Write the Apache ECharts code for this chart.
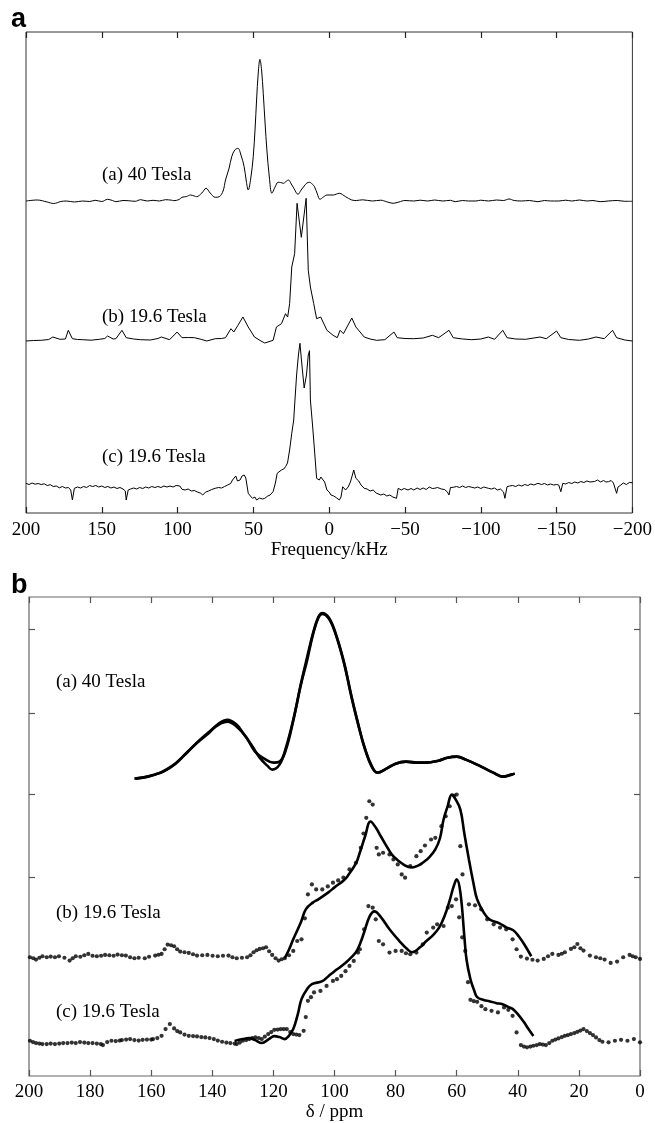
<!DOCTYPE html>
<html>
<head>
<meta charset="utf-8">
<script src="https://cdn.jsdelivr.net/npm/echarts/dist/echarts.min.js"></script>
<style>
  html, body { margin: 0; padding: 0; background: #fff; }
  #chart { width: 655px; height: 1123px; }
</style>
</head>
<body>
<div id="chart"></div>
<script>
// panel a: spectra vs frequency (kHz), height above own baseline
var A_40T = [[200,0],[192.6,1],[186,-1],[181.7,-2.5],[177,-0.5],[173.5,0],[168,-1],[162.6,0],[158,-0.5],[154.4,0.7],[150,-0.5],[146.2,1.7],[143,0.5],[140.7,-0.7],[136,0.5],[132.6,0.3],[128,-0.3],[124.4,1.3],[120,0],[116.2,0.7],[112,0],[108,1.3],[104,0.8],[102.5,0.3],[99,1.5],[97.1,3.7],[94,4.5],[91.6,6],[89,5],[87.5,4.3],[84,8],[81.2,12.7],[78.5,8],[75.2,3.7],[72.5,4.3],[70,10],[68.4,21],[66,33],[64.3,44.3],[62.3,51],[60.2,52.7],[58.2,46],[56.1,34.3],[54.7,20],[53.4,11],[51.8,22],[50.1,44.3],[48.9,72],[47.9,101],[46.8,128],[45.7,141.7],[44.6,131],[43.5,107.7],[42.3,78],[41.1,51],[39.5,24],[37.8,7.7],[35.7,14],[33.7,18.7],[32,18.5],[30.2,17.7],[28.5,19.5],[26.9,21],[25,17],[23.3,12.7],[20.6,6.7],[18.5,11],[16.5,15],[14.7,18],[13,18.7],[11.2,17],[9.7,14.3],[7.8,7],[6.1,1.7],[3.8,4],[1.5,6],[-2.6,6],[-6.7,7.7],[-10.8,4.3],[-14.9,1],[-18,0.5],[-22,1.2],[-28.5,0],[-34,0.8],[-38,-0.8],[-42.2,-2.3],[-46,-1],[-50,0.5],[-55.8,0],[-60,0.8],[-65,0],[-69.5,1],[-75,0],[-80,0.7],[-83.1,-0.7],[-88,0.5],[-92,0],[-96.8,0],[-100,0.8],[-105,0],[-110.4,1],[-115,0.5],[-118.6,2],[-122,0.5],[-126.8,0],[-132,0.5],[-137.7,-0.7],[-142,0.5],[-146,0],[-151.4,0],[-156,0.8],[-160,0],[-165.1,1],[-170,0],[-174,0.5],[-178.7,-0.7],[-184,0],[-190,0.5],[-195,-0.3],[-200,-0.3]];

var A_196T_B = [[200,0],[195,0.5],[189.9,0.7],[185,1.5],[182.3,4],[177.6,1.7],[174,2],[172.1,10.7],[169.4,2.3],[166,1.5],[162.6,1.3],[157,0.8],[151.7,1.7],[148,2.5],[146.2,5],[142.5,2],[140.7,2.3],[136.7,10.7],[133.9,3.3],[129,2],[124.4,1.3],[118,1],[113,2.5],[110.7,4],[105.3,1.3],[100.3,9],[97.1,3.3],[93,3.5],[88.9,3.3],[84,1.5],[80.7,0],[75.2,2.3],[71,2.5],[68.4,3.3],[64.8,12.3],[62.9,9],[60.2,15.7],[56.9,24],[53.4,14],[49.3,4],[45,0],[42.5,-2],[37,0.7],[34.8,14],[31.5,17.3],[28.8,27.3],[27.4,24],[26.1,37.3],[24.7,74],[22.8,87.3],[21.2,137.7],[18.4,103.7],[15.2,142.7],[13.8,70.7],[12.4,54],[10.2,37.3],[8.3,22.3],[5.6,24],[1.5,10.7],[-2.6,5.7],[-5.3,3.3],[-7.2,10.7],[-9.4,7.3],[-14.9,23],[-17.6,14],[-23.1,4],[-27,2],[-31.3,0.7],[-36.7,1.3],[-42.7,9],[-44.9,3.3],[-50,2.5],[-55.8,2.3],[-62,3],[-68.1,5.7],[-72.2,3.3],[-79,10.7],[-81.8,3.3],[-88,2],[-94.1,1.3],[-100,2],[-105,4],[-109.1,1.7],[-114.5,10.7],[-117.3,3.3],[-123,2],[-129.6,1.7],[-139.1,4],[-143.2,2.3],[-150,10],[-152.8,3.3],[-158,1.5],[-165.1,0.7],[-171,2],[-176,4],[-181.4,2.3],[-186.9,10.7],[-189.6,3.3],[-195,1],[-200,0]];

var A_196T_C = [[200,1.7],[198,0.5],[196,2],[194,0.8],[192,1.5],[190,0.5],[188,1.2],[186,-0.5],[184,0.3],[182,-1.5],[180,-1],[178,-2.8],[176,-1.5],[174,-3],[172,-2.5],[170.5,-5],[169.4,-15],[168.1,-3.3],[166,-2],[164,-3],[162,-1.5],[160,-2.5],[158,-0.5],[156,-1.5],[154,-0.5],[152,-2],[150,-1],[148,-2.5],[146,-1.5],[144,-3],[142,-2],[140,-3.5],[138,-2.5],[136,-4],[134.5,-6],[133.9,-15],[132.6,-5],[131,-4],[129,-3],[127,-4],[125,-2.5],[123,-3.5],[121,-2],[119,-3],[117,-1.5],[115,-2.5],[113,-1.5],[111,-2.5],[109,-1],[107,-2],[105,-1],[103,-2],[101,-0.5],[99.8,1],[98.5,-1],[97.1,-4.3],[95,-5],[93,-4],[91,-6],[89,-5.5],[87,-7],[85,-8],[83.4,-10],[81.5,-7],[79.5,-6],[77.5,-4.5],[75.2,-3.3],[73,-2.5],[71,-3],[69,-1.5],[67,0],[65,1.5],[63.8,5],[62.5,3],[61.6,9],[60.5,4],[58.8,5],[57.5,9],[56.1,10],[55,7],[54.2,8.3],[53.4,-8.3],[52,-11],[50.6,-13.3],[49,-12],[47.9,-15],[46,-13],[44,-14],[42.5,-13.3],[40.5,-11],[39,-10],[37,-6.7],[35.5,2],[34.3,11.7],[33,10],[31.5,15],[30,16],[28.8,18.3],[27.5,22],[26.1,35],[24.7,51.7],[23.4,65],[22.8,80],[21.5,110],[20.3,130],[19.3,141.7],[18,120],[16.5,97],[15,110],[13.8,130],[13,134.3],[12.4,85],[11,60],[9.7,35],[8.3,6.7],[6.5,5],[5.5,8],[4.2,10],[3,3],[1.5,-5],[0,-7],[-1.2,-10],[-3,-11],[-5,-13],[-6.7,-15],[-7.8,-12],[-8.9,-1.7],[-10.8,-5],[-12.5,-2],[-14,3],[-16.2,15],[-17.6,6.7],[-19.5,4],[-21,0],[-23.1,-3.3],[-25,-4],[-27,-6],[-29,-5],[-31,-8],[-34,-10],[-36,-9],[-38,-11],[-40,-10],[-42,-12],[-44.4,-13.3],[-45.5,-3.3],[-47.5,-5],[-49.5,-3.5],[-52,-5],[-54,-3.5],[-55.8,-5],[-58,-3],[-60,-4.5],[-62,-3],[-64,-4.5],[-66,-2],[-68,-3.5],[-69.5,-3.3],[-71.5,-2.5],[-74,-4],[-76,-4.5],[-78,-7],[-79,-10],[-80,-2.5],[-81.8,-2.3],[-84,-1.5],[-86,-2.5],[-88,-1],[-90,-2.5],[-92,-1.5],[-94.1,-2.3],[-96,-3],[-98,-2],[-100,-3.5],[-102,-2],[-105,-3.3],[-107,-4],[-109,-3],[-111,-5],[-113,-4],[-115,-7],[-115.9,-13.3],[-117.3,-1.7],[-119,-1],[-121,-0.5],[-123,-1.5],[-125,0],[-127,-1],[-129,0.5],[-131,-0.5],[-133,1],[-135,0],[-137.7,1.7],[-140,0.5],[-142,1.5],[-144,0],[-146,1],[-148,0],[-150,0.5],[-151.4,0],[-152.8,-6.7],[-154.1,1.7],[-156,1],[-158,2.5],[-160,1.5],[-162,3],[-164,2],[-166,3.5],[-168,2.5],[-170,4],[-172,3],[-173.2,5],[-175,3.5],[-177,5],[-179,3],[-181,4.5],[-182.5,3],[-184.2,3.3],[-186,4.5],[-187.5,2],[-188.5,-3],[-189.6,-8.3],[-190.5,-2],[-192.4,0],[-194,2],[-196,0.5],[-198,2.5],[-200,2.3]];

var A_OFFSETS = [312, 172, 28];
var A_NAMES = ['(a) 40 Tesla', '(b) 19.6 Tesla', '(c) 19.6 Tesla'];

// panel b: chemical shift (ppm); fits (lines) and experiment (dots)
var B_SIM_A = [[165.5,0],[162,1.5],[159,4],[156,7],[152,15],[149,24],[145,36],[141,46],[138,55],[135,59],[132,54],[130,46],[127,33],[124.5,21],[122,13],[120.4,9],[118,14],[116,30],[113.5,59],[111,95],[109.4,116],[107,146],[105.3,162],[104,166],[102,162],[100,149],[97,118],[94.4,82],[92,52],[90.3,32],[88,14],[86,6],[83,10],[80,15],[76.6,17],[73,16],[70,16],[66,18],[63,21],[60,22],[57,19],[52,12],[48,6],[45,2],[42,4],[41,5]];
var B_EXP_A = [[165,0],[161,2],[157,6],[153,13],[150,21],[147,30],[144,39],[141,47],[138,54],[135,57],[132,52],[129,42],[126,27],[123,20],[120,16],[118,17],[116,28],[113.5,58],[111,94],[109,118],[107,145],[105.3,161],[104,165],[102,161],[100,148],[97,117],[94.4,81],[92,51],[90,30],[88,13],[86,6],[83,10],[80,15],[76.6,17],[73,16],[70,16],[66,18],[63,21],[60,22],[57,19],[52,12],[48,6],[45,2],[42,4],[41,5]];

var B_SIM_B = [[116.3,0],[115,8],[113.5,19],[111,36],[109.4,49],[107,56],[105.3,59],[102,66],[100,71],[97,78],[95.8,82],[93,95],[91.7,106],[90,122],[88.2,137],[86.5,131],[84.8,122],[82.5,110],[80.7,102],[77,93],[74.6,91],[72.5,93],[71,96],[69,101],[67,109],[65.5,120],[64.3,139],[63,152],[61.6,164],[60.5,160],[58.8,149],[57.5,125],[56,99],[54.5,75],[53.3,59],[51,45],[49.3,39],[46,35],[43.8,31],[41.5,28],[39.7,22],[37.5,12],[35.6,2]];
var B_EXP_B = [[199.7,1],[198.6,0],[197.7,-1.3],[196.6,0.5],[195.6,2],[194.2,1],[192.9,1.7],[191.5,1],[190.2,2],[188.4,0.5],[186.7,-2.3],[185.7,0],[184.7,2],[183.2,1.5],[181.9,3],[180.6,4.3],[179.2,2.5],[177.8,2],[176.4,2.5],[175.1,3.3],[173.7,3],[172.3,2.5],[171,3.7],[169.6,3],[168.3,2.7],[166.9,1],[165.5,0],[164.1,0.5],[162.1,0],[160.7,1.5],[158.7,2.7],[157.6,3.5],[156.6,4.3],[155.6,9],[154.6,13.7],[153.5,13],[152.5,12],[151.5,9],[150.5,6.7],[149.1,6],[147.7,5.3],[146.3,4],[145,2.7],[143.3,3],[141.6,3.3],[139.9,2.5],[138.2,2],[136.5,2.5],[134.7,2.7],[133.4,1],[132,0],[130.3,0.5],[128.6,1],[127.5,3],[126.5,6],[125.5,8],[124.5,9.3],[123.4,10],[122.4,11],[121.4,7],[120.4,3.3],[119.3,0],[118.3,-2.3],[117.3,-1],[116.3,0],[114.9,3],[113.5,7.3],[112.2,17.3],[110.8,19],[109.7,40],[108.7,64],[107.4,74],[106,69],[104,69],[102.2,72],[100.5,75.7],[98.8,78],[97.1,80.7],[95.1,89],[93,95.7],[91.4,110.7],[90.5,125],[89.6,140.7],[88.6,157.3],[87.5,154],[86.2,110.7],[85.5,104],[84.1,105.7],[82,104],[80.7,99],[79.3,94],[78,84],[76.9,80.7],[75.2,92.3],[73.2,102.3],[71.8,107.3],[70.4,113],[68.4,119],[67,120.7],[65,132.3],[63.6,142.3],[62.3,152.3],[60.9,163],[60,164],[58.8,112.3],[58.1,84],[56,54],[54,53],[52,49],[50,39],[47.9,34],[45.8,30.7],[43.8,29],[41.7,19],[40.4,9],[39,1.7],[37,-0.3],[35.2,-1.5],[33.5,-2.3],[31.5,-0.7],[30.1,2],[28.7,4.3],[26.7,3.3],[25.6,4.5],[24.6,6],[22.6,9.3],[21.5,11],[20.5,14.3],[19.5,10],[18.5,7.7],[16.4,2.7],[14.4,1],[13,0],[11.6,-1.3],[9.6,-4.7],[7.5,-3.3],[5.5,1],[3.4,3.3],[2.4,2],[1.4,1],[0,-0.7]];

var B_SIM_C = [[132.7,1],[130,3],[128,4],[126,2],[123.8,-1],[121.5,3],[119.7,6],[118,5],[116.3,3],[115,6],[113.5,13],[112,28],[110.8,43],[109,53],[107.4,58],[104,61],[102,66],[100,71],[97.8,76],[95.8,81],[93,90],[91.7,98],[90.3,110],[88.5,126],[86.9,131],[85,126],[82,113],[78.7,101],[76.5,94],[74.6,90],[72,95],[70,101],[67.5,108],[65.7,115],[64,126],[62.2,143],[61,156],[60,163],[58.8,150],[57.5,106],[56.8,83],[55.5,63],[54.3,52],[53.3,45],[51,42],[49.3,41],[47,39],[45,38],[43,35],[41.6,33],[40,28],[38,20],[36.5,13],[34.9,6]];
var B_EXP_C = [[199.7,1.3],[198.7,0],[197.7,-1],[196.6,-1.5],[195.6,-2],[194.2,-2],[192.9,-1.5],[191.5,-2],[190.1,-1.5],[188.8,-1],[187.4,-1],[186,-0.5],[184.7,-1],[183.3,0],[181.9,-0.5],[180.6,-1],[179.2,-1],[177.8,-1.5],[176.5,-2],[175.8,-3],[174.4,0],[173,1.3],[171.6,1],[170.3,1.5],[169.6,2],[168.2,2.5],[166.9,3],[165.5,2],[164.1,1.5],[162.8,2.3],[161.4,2.5],[160,2.5],[159.4,3],[158,4],[156.6,6.3],[155.3,13],[153.9,18],[152.5,13.7],[151.5,11],[150.5,9.7],[149.1,7.5],[147.7,6.3],[146.3,6],[145,5.7],[143.6,5],[142.3,4.7],[140.9,4],[139.5,3],[138.2,1.5],[136.8,0.3],[135.4,-0.5],[134.1,-1],[132.7,-1.5],[132,-2],[131,-0.5],[130,1.3],[128.9,2],[127.9,3],[126.9,4],[125.9,4.7],[124.8,4],[123.8,3],[122.8,5.5],[121.7,8],[120.7,10],[119.7,12.3],[118.6,12.5],[117.6,13],[116.6,13],[115.6,13],[114.5,10],[113.5,8],[112.5,7.5],[111.5,7],[110.1,11.3],[109.4,25],[108.7,41.3],[107.7,45],[106.7,49.7],[104.6,51.3],[102.6,56.3],[100.5,61.3],[99.2,63],[97.8,66.3],[96.4,71],[95.1,76.3],[93.7,81.3],[92.3,89.7],[91.7,93],[90.3,113],[88.9,136.3],[87.5,134.7],[86.5,123],[85.5,101.3],[84.1,98],[82,89.7],[80,91.3],[78,91.3],[76.6,89],[75.2,88],[73.2,89.7],[71.1,98],[69.8,109.7],[67.7,114.7],[66.4,118],[64.3,116.3],[62.9,134.7],[61.6,136.3],[60.2,143],[59.2,125],[58.2,105],[57.2,91.3],[56.3,60],[55.5,42.3],[54.4,41],[53.3,40.3],[51.9,36],[50.6,33],[48.6,31.3],[46.5,29.7],[44.5,34.7],[43.1,32.3],[41.7,26.3],[40.4,9.7],[39,-3],[38,-4.5],[37,-5.3],[35.9,-4.5],[34.9,-3.7],[33.8,-3],[32.8,-2],[31.8,-2.5],[30.8,-3],[29.7,-1],[28.7,1.3],[27.7,2.5],[26.7,3.7],[25.6,5],[24.6,6.3],[23.6,7],[22.6,8],[21.5,9],[20.5,10.3],[19.5,11.5],[18.5,13],[17.4,11],[16.4,9],[15.4,7],[14.4,4.7],[13.3,2],[12.3,0.3],[10.3,-0.3],[8.2,1.3],[6.2,2.3],[4.1,1.3],[2,3],[0,-0.3]];

var B_OFFSETS = [298, 118, 34];
var B_Y_TICKS = [199, 282, 364, 448];

var SERIF = '"Liberation Serif", "Times New Roman", serif';

function shift(arr, off) {
  return arr.map(function (p) { return [p[0], p[1] + off]; });
}
function minus(v) { return String(v).replace('-', '\u2212'); }

var chart = echarts.init(document.getElementById('chart'));

var frame = '#333';
function xAxisA(pos, labels) {
  return {
    type: 'value', gridIndex: 0, position: pos, min: -200, max: 200, interval: 50, inverse: true,
    axisLine: { show: false, onZero: false },
    axisTick: { show: true, inside: true, length: 6, lineStyle: { color: '#222', width: 1.2 } },
    splitLine: { show: false },
    axisLabel: { show: labels, margin: 8, fontFamily: SERIF, fontSize: 19, color: '#000', formatter: minus },
    name: labels ? 'Frequency/kHz' : '', nameLocation: 'middle', nameGap: 28,
    nameTextStyle: { fontFamily: SERIF, fontSize: 19, color: '#000' }
  };
}
function xAxisB(pos, labels) {
  return {
    type: 'value', gridIndex: 1, position: pos, min: 0, max: 200, interval: 20, inverse: true,
    axisLine: { show: false, onZero: false },
    axisTick: { show: true, inside: true, length: 6, lineStyle: { color: '#555', width: 1.2 } },
    splitLine: { show: false },
    axisLabel: { show: labels, margin: 7, fontFamily: SERIF, fontSize: 19, color: '#000' },
    name: labels ? '\u03b4 / ppm' : '', nameLocation: 'middle', nameGap: 27,
    nameTextStyle: { fontFamily: SERIF, fontSize: 19, color: '#000' }
  };
}
function yAxisB(pos) {
  return {
    type: 'value', gridIndex: 1, position: pos, min: 0, max: 480,
    axisLine: { show: false, onZero: false },
    axisTick: { show: true, inside: true, length: 6, customValues: B_Y_TICKS, lineStyle: { color: '#555', width: 1.2 } },
    axisLabel: { show: false },
    splitLine: { show: false }
  };
}

var series = [];
[A_40T, A_196T_B, A_196T_C].forEach(function (arr, i) {
  series.push({
    type: 'line', xAxisIndex: 0, yAxisIndex: 0, data: shift(arr, A_OFFSETS[i]),
    showSymbol: false, smooth: i === 0 ? 0.35 : false,
    lineStyle: { color: '#000', width: 1 }, silent: true, animation: false
  });
});
[B_SIM_A, B_SIM_B, B_SIM_C].forEach(function (arr, i) {
  series.push({
    type: 'line', xAxisIndex: 2, yAxisIndex: 1, data: shift(arr, B_OFFSETS[i]),
    showSymbol: false, smooth: 0.4,
    lineStyle: { color: '#000', width: 2.6 }, silent: true, animation: false
  });
});
series.push({
  type: 'line', xAxisIndex: 2, yAxisIndex: 1, data: shift(B_EXP_A, B_OFFSETS[0]),
  showSymbol: false, smooth: 0.4,
  lineStyle: { color: '#000', width: 2.6 }, silent: true, animation: false
});
[B_EXP_B, B_EXP_C].forEach(function (arr, i) {
  series.push({
    type: 'scatter', xAxisIndex: 2, yAxisIndex: 1, data: shift(arr, B_OFFSETS[i + 1]),
    symbol: 'circle', symbolSize: 4.2, itemStyle: { color: '#000' }, silent: true, animation: false
  });
});

var labels = [];
A_NAMES.forEach(function (t, i) {
  labels.push({ type: 'text', x: 102, y: [175, 317, 457][i],
    style: { text: t, font: '19px ' + SERIF, fill: '#000', textVerticalAlign: 'middle' } });
  labels.push({ type: 'text', x: 56, y: [682, 913, 1012][i],
    style: { text: t, font: '19px ' + SERIF, fill: '#000', textVerticalAlign: 'middle' } });
});
labels.push({ type: 'text', x: 11, y: 33,
  style: { text: 'a', font: 'bold 27px "Liberation Sans", Arial, sans-serif', fill: '#000', textVerticalAlign: 'bottom' } });
labels.push({ type: 'text', x: 11, y: 599,
  style: { text: 'b', font: 'bold 27px "Liberation Sans", Arial, sans-serif', fill: '#000', textVerticalAlign: 'bottom' } });

chart.setOption({
  animation: false,
  grid: [
    { left: 26, right: 15, top: 32, height: 481, show: true, borderColor: frame, borderWidth: 1, backgroundColor: 'transparent' },
    { left: 29, right: 15, top: 597, height: 480, show: true, borderColor: '#666', borderWidth: 1.2, backgroundColor: 'transparent' }
  ],
  xAxis: [xAxisA('bottom', true), xAxisA('top', false), xAxisB('bottom', true), xAxisB('top', false)],
  yAxis: [
    { type: 'value', gridIndex: 0, min: 0, max: 481, show: false },
    yAxisB('left'), yAxisB('right')
  ],
  graphic: labels,
  series: series
});
</script>
</body>
</html>
